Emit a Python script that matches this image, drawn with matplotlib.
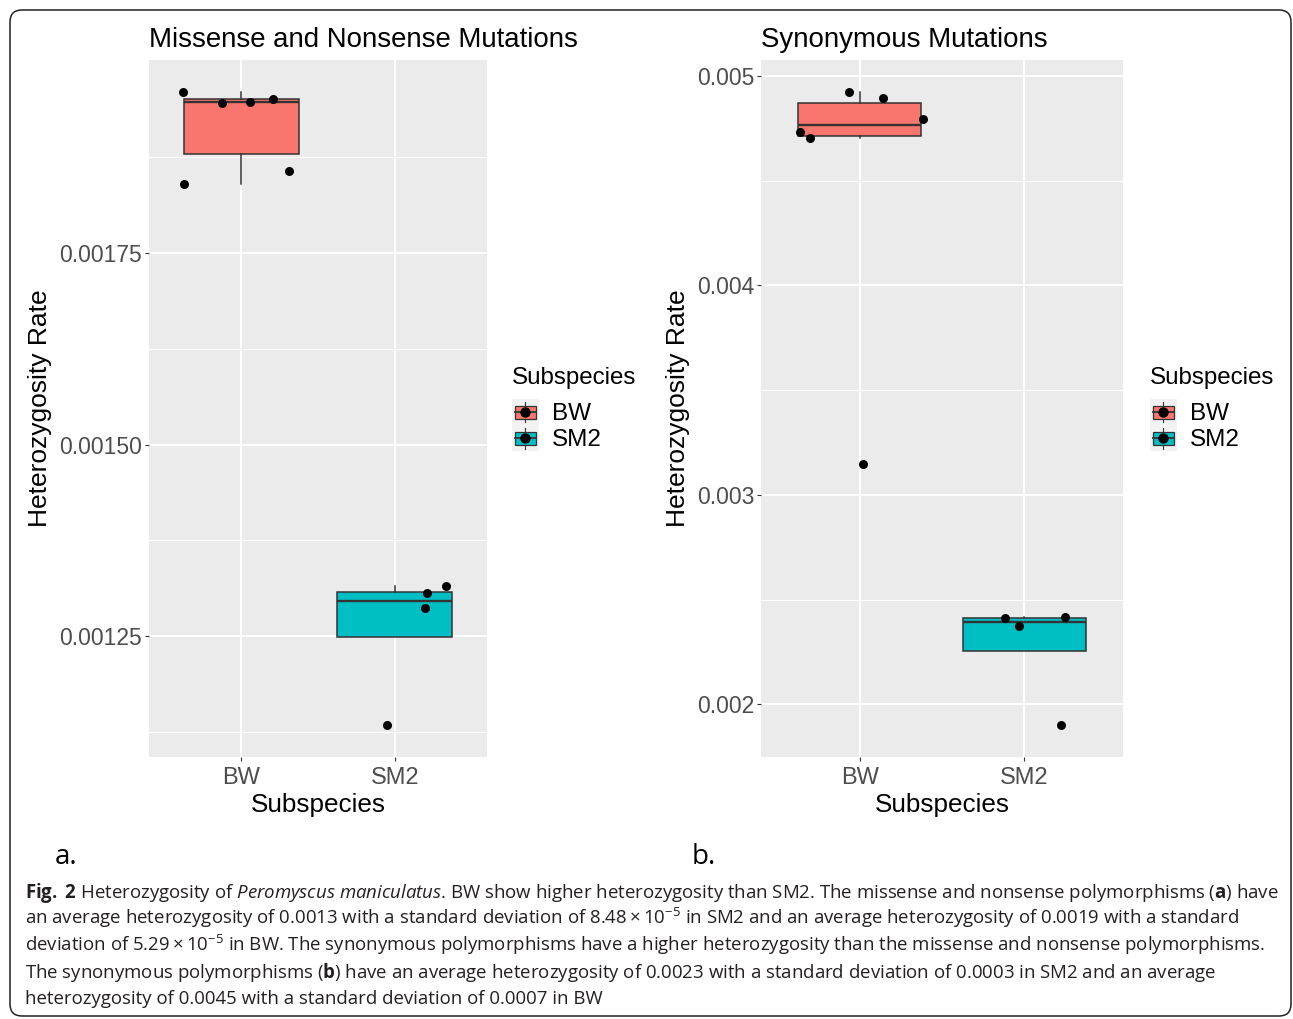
import numpy as np
import matplotlib.pyplot as plt
from matplotlib.patches import Rectangle, Patch, FancyBboxPatch
from matplotlib.lines import Line2D
from matplotlib.legend_handler import HandlerBase
from matplotlib.transforms import IdentityTransform

plt.rcParams['font.family'] = ['Liberation Sans', 'DejaVu Sans']
plt.rcParams['mathtext.fontset'] = 'custom'
plt.rcParams['mathtext.rm'] = 'Open Sans'
plt.rcParams['mathtext.it'] = 'Open Sans:italic'
plt.rcParams['mathtext.bf'] = 'Open Sans:bold'

# data
groups = ['BW', 'SM2']
fill_colors = ['#F8766D', '#00BFC4']

missense_bw = [0.001960, 0.001945, 0.001947, 0.001951, 0.001840, 0.001857]
missense_bw_jitter = [-0.378, -0.124, 0.059, 0.208, -0.371, 0.313]
missense_sm2 = [0.001134, 0.001306, 0.001287, 0.001315]
missense_sm2_jitter = [-0.052, 0.208, 0.195, 0.332]

syn_bw = [0.004733, 0.004704, 0.004924, 0.004895, 0.004795, 0.003149]
syn_bw_jitter = [-0.365, -0.304, -0.067, 0.140, 0.383, 0.018]
syn_sm2 = [0.002410, 0.002372, 0.002415, 0.001900]
syn_sm2_jitter = [-0.120, -0.030, 0.250, 0.225]

missense_ticks = [0.00125, 0.00150, 0.00175]
missense_ticklabels = ['0.00125', '0.00150', '0.00175']
missense_minor = [0.001125, 0.001375, 0.001625, 0.001875]
syn_ticks = [0.002, 0.003, 0.004, 0.005]
syn_ticklabels = ['0.002', '0.003', '0.004', '0.005']
syn_minor = [0.0025, 0.0035, 0.0045]

caption_lines = [
    r"$\mathbf{Fig.}$ $\mathbf{2}$ Heterozygosity of $\mathit{Peromyscus}$ $\mathit{maniculatus}$. BW show higher heterozygosity than SM2. The missense and nonsense polymorphisms ($\mathbf{a}$) have",
    r"an average heterozygosity of 0.0013 with a standard deviation of $8.48\times10^{-5}$ in SM2 and an average heterozygosity of 0.0019 with a standard",
    r"deviation of $5.29\times10^{-5}$ in BW. The synonymous polymorphisms have a higher heterozygosity than the missense and nonsense polymorphisms.",
    r"The synonymous polymorphisms ($\mathbf{b}$) have an average heterozygosity of 0.0023 with a standard deviation of 0.0003 in SM2 and an average",
    "heterozygosity of 0.0045 with a standard deviation of 0.0007 in BW",
]

W, H = 1293, 1019
fig = plt.figure(figsize=(W / 100, H / 100), dpi=100)


def fx(x):
    return x / W


def fy(y):
    return 1 - y / H


class BoxKey(HandlerBase):
    def create_artists(self, legend, orig_handle, xdescent, ydescent,
                       width, height, fontsize, trans):
        x0, y0 = -xdescent, -ydescent
        cx = x0 + width / 2
        bg = Rectangle((x0, y0), width, height, facecolor='#F2F2F2',
                       edgecolor='none', transform=trans)
        wh = Line2D([cx, cx], [y0 + 0.1 * height, y0 + 0.9 * height],
                    color='#333333', lw=0.8, transform=trans)
        box = Rectangle((x0 + 0.1 * width, y0 + 0.25 * height), 0.8 * width, 0.5 * height,
                        facecolor=orig_handle.get_facecolor(), edgecolor='#333333',
                        lw=0.9, transform=trans)
        med = Line2D([x0 + 0.1 * width, x0 + 0.9 * width], [y0 + 0.5 * height] * 2,
                     color='#333333', lw=1.3, transform=trans)
        dot = Line2D([cx], [y0 + 0.5 * height], marker='o', markersize=6.5,
                     color='black', lw=0, transform=trans)
        return [bg, wh, box, med, dot]


def draw_panel(left, right, values, jitters, title, ticks, ticklabels, minor):
    top, bottom = 60, 757
    ax = fig.add_axes([fx(left), fy(bottom), (right - left) / W, (bottom - top) / H])
    ax.set_facecolor('#EBEBEB')
    bp = ax.boxplot(values, positions=[1, 2], widths=0.75, whis=1.5,
                    showfliers=False, showcaps=False, patch_artist=True,
                    medianprops=dict(color='#333333', lw=1.7),
                    boxprops=dict(edgecolor='#333333', lw=1.1),
                    whiskerprops=dict(color='#333333', lw=1.1), zorder=2)
    for patch, c in zip(bp['boxes'], fill_colors):
        patch.set_facecolor(c)
    for i, (v, j) in enumerate(zip(values, jitters)):
        ax.scatter(np.array(j) + i + 1, v, s=42, color='black', linewidths=0, zorder=3)

    allv = np.concatenate(values)
    pad = 0.05 * (allv.max() - allv.min())
    ax.set_ylim(allv.min() - pad, allv.max() + pad)
    ax.set_xlim(0.4, 2.6)
    ax.set_xticks([1, 2])
    ax.set_xticklabels(groups)
    ax.set_yticks(ticks)
    ax.set_yticklabels(ticklabels)
    ax.set_yticks(minor, minor=True)
    ax.set_axisbelow(True)
    ax.grid(True, which='major', color='white', lw=1.5)
    ax.grid(True, which='minor', axis='y', color='white', lw=0.75)
    for s in ax.spines.values():
        s.set_visible(False)
    ax.tick_params(which='major', length=3, width=0.8, color='#333333',
                   labelcolor='#4D4D4D', labelsize=16.5)
    ax.tick_params(axis='y', pad=2)
    ax.tick_params(axis='x', pad=4, labelsize=17)
    ax.tick_params(which='minor', length=0)
    ax.set_title(title, loc='left', fontsize=19.9, pad=9.4)
    return ax


draw_panel(149, 487, [missense_bw, missense_sm2], [missense_bw_jitter, missense_sm2_jitter],
           'Missense and Nonsense Mutations', missense_ticks, missense_ticklabels, missense_minor)
draw_panel(761, 1123, [syn_bw, syn_sm2], [syn_bw_jitter, syn_sm2_jitter],
           'Synonymous Mutations', syn_ticks, syn_ticklabels, syn_minor)

# axis titles
for cx in [318, 942]:
    fig.text(fx(cx), fy(805), 'Subspecies', ha='center', va='center', fontsize=18.8)
for cx in [40, 678]:
    fig.text(fx(cx), fy(408), 'Heterozygosity Rate', ha='center', va='center',
             rotation=90, fontsize=19)

# legends
for lx in [512, 1150]:
    fig.text(fx(lx), fy(378), 'Subspecies', ha='left', va='center', fontsize=17.4)
    fig.legend(handles=[Patch(facecolor=c) for c in fill_colors], labels=groups,
               handler_map={Patch: BoxKey()}, loc='upper left',
               bbox_to_anchor=(fx(lx), fy(399)), frameon=False, fontsize=17.5,
               handlelength=1.11, handleheight=1.27, labelspacing=0.0,
               handletextpad=0.55, borderpad=0, borderaxespad=0)

# panel letters
fig.text(fx(55), fy(857), 'a.', family='Open Sans', fontsize=20, va='center')
fig.text(fx(692), fy(857), 'b.', family='Open Sans', fontsize=20, va='center')

# caption, sized so the first line spans the box width
renderer = fig.canvas.get_renderer()
probe = fig.text(0, 0, caption_lines[0], family='Open Sans', fontsize=12)
w = probe.get_window_extent(renderer).width
probe.remove()
cap_size = 12 * 1250 / w
for k, line in enumerate(caption_lines):
    fig.text(fx(25), fy(898 + 26.5 * k), line, family='Open Sans', fontsize=cap_size,
             color='#231F20', va='baseline', ha='left')

# rounded frame
frame = FancyBboxPatch((10, 1019 - 1016), 1281, 1006,
                       boxstyle='round,pad=0,rounding_size=12',
                       facecolor='none', edgecolor='#222222', lw=1.1,
                       transform=IdentityTransform())
fig.patches.append(frame)

fig.savefig('out.png', dpi=100)
